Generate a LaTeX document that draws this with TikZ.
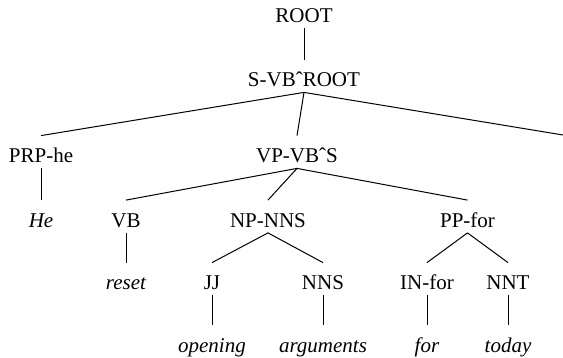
\documentclass[tikz,border=0pt]{standalone}
\usepackage{fontspec}
\setmainfont{Liberation Serif}
\usetikzlibrary{positioning}
\tikzstyle{cat} = [inner sep=0pt, anchor=base, text height=13.5pt, text depth=2.5pt, font=\fontsize{10.5}{12}\selectfont]
\tikzstyle{word} = [cat, font=\fontsize{10.5}{12}\selectfont\itshape]
\tikzstyle{edge} = [line width=0.5pt]

\begin{document}
\begin{tikzpicture}[x=0.5pt, y=-0.5pt]
\useasboundingbox (0,0) rectangle (563,358);

\node (root) [cat] at (304,23) {ROOT};

\node (s) [cat] at (304,87) {S-VBˆROOT};

\node (prp) [cat] at (41,163) {PRP-he};
\node (vp) [cat] at (297,163) {VP-VBˆS};
\coordinate (rest) at (563,135);

\node (he) [word] at (41,227.5) {He};
\node (vb) [cat] at (126,227.5) {VB};
\node (np) [cat] at (268,227.5) {NP-NNS};
\node (pp) [cat] at (467.5,227.5) {PP-for};

\node (reset) [word] at (126,290) {reset};
\node (jj) [cat] at (212,290) {JJ};
\node (nns) [cat] at (323,290) {NNS};
\node (in) [cat] at (427,290) {IN-for};
\node (nnt) [cat] at (508,290) {NNT};

\node (opening) [word] at (212,352.5) {opening};
\node (arguments) [word] at (323,352.5) {arguments};
\node (for) [word] at (427,352.5) {for};
\node (today) [word] at (508,352.5) {today};


\draw [edge] (root.south) -- (s.north);

\draw [edge] (s.south) -- (prp.north);
\draw [edge] (s.south) -- (vp.north);
\draw [edge] (s.south) -- (rest);

\draw [edge] (prp.south) -- (he.north);

\draw [edge] (vp.south) -- (vb.north);
\draw [edge] (vp.south) -- (np.north);
\draw [edge] (vp.south) -- (pp.north);

\draw [edge] (vb.south) -- (reset.north);
\draw [edge] (np.south) -- (jj.north);
\draw [edge] (np.south) -- (nns.north);
\draw [edge] (pp.south) -- (in.north);
\draw [edge] (pp.south) -- (nnt.north);

\draw [edge] (jj.south) -- (opening.north);
\draw [edge] (nns.south) -- (arguments.north);
\draw [edge] (in.south) -- (for.north);
\draw [edge] (nnt.south) -- (today.north);

\end{tikzpicture}
\end{document}
